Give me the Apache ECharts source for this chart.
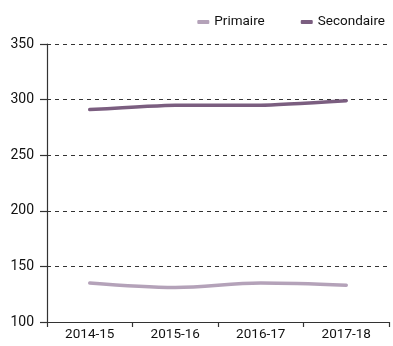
<!DOCTYPE html>
<html><head><meta charset="utf-8">
<script src="https://cdn.jsdelivr.net/npm/echarts@6/dist/echarts.min.js"></script>
<style>html,body{margin:0;padding:0;background:#fff}#c{width:393px;height:346px}</style>
</head><body><div id="c"></div>
<script>
const categories = ['2014-15', '2015-16', '2016-17', '2017-18'];
const primaire = [135, 131, 135, 133];
const secondaire = [291, 295, 295, 299];
const yTicks = [100, 150, 200, 250, 300, 350];

const FONT = "Roboto, 'Liberation Sans', sans-serif";
const chart = echarts.init(document.getElementById('c'), null, {renderer: 'canvas'});
chart.setOption({
  animation: false,
  textStyle: {fontFamily: FONT},
  legend: {
    right: 3, top: 10,
    itemWidth: 12, itemHeight: 4, itemGap: 36,
    icon: 'roundRect',
    textStyle: {fontFamily: FONT, fontSize: 13.5, color: '#111'},
    data: ['Primaire', 'Secondaire']
  },
  grid: {left: 47, right: 4, top: 44, bottom: 24, containLabel: false},
  xAxis: {
    type: 'category', data: categories, boundaryGap: true,
    axisLine: {lineStyle: {color: '#333', width: 1.2}},
    axisTick: {show: true, length: 5, lineStyle: {color: '#333', width: 1.2}},
    axisLabel: {color: '#111', fontSize: 13.5, fontFamily: FONT, margin: 6}
  },
  yAxis: {
    type: 'value', min: yTicks[0], max: yTicks[yTicks.length-1], interval: 50,
    axisLine: {show: true, lineStyle: {color: '#333', width: 1.2}},
    axisTick: {show: true, length: 7, lineStyle: {color: '#333', width: 1.2}},
    axisLabel: {color: '#111', fontSize: 14, fontFamily: FONT, margin: 13},
    splitLine: {show: true, lineStyle: {color: '#333', type: [4, 4], width: 1}}
  },
  series: [
    {name: 'Primaire', type: 'line', data: primaire, smooth: 0.35, symbol: 'none',
     color: '#b4a2b9', lineStyle: {width: 3.5, color: '#b4a2b9', cap: 'round'}},
    {name: 'Secondaire', type: 'line', data: secondaire, smooth: 0.15, symbol: 'none',
     color: '#7b5e80', lineStyle: {width: 3.5, color: '#7b5e80', cap: 'round'}}
  ]
});
</script></body></html>
